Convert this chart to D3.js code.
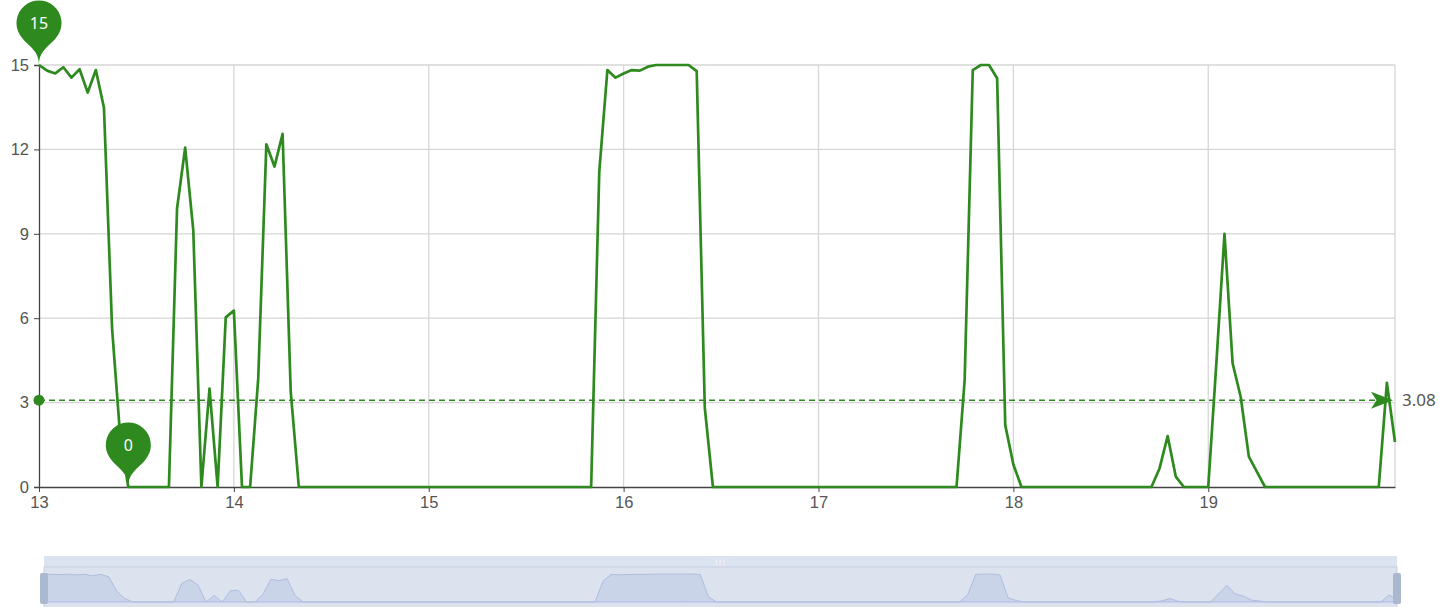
<!DOCTYPE html>
<html>
<head>
<meta charset="utf-8">
<script src="https://cdn.jsdelivr.net/npm/d3@7"></script>
<style>
  html, body { margin: 0; padding: 0; background: #fff; }
  svg { display: block; font-family: "Noto Sans", "Open Sans", sans-serif; }
</style>
</head>
<body>
<div id="chart"></div>
<script>
// day labels on the x axis, one label every 24 hourly samples
var days = ["13", "14", "15", "16", "17", "18", "19"];
var stepsPerDay = 24;
var yTicks = [0, 3, 6, 9, 12, 15];

// hourly values (168 samples)
var values = [
  15, 14.8, 14.7, 14.92, 14.55, 14.85, 14.02, 14.82, 13.48, 5.64, 1.8, 0,
  0, 0, 0, 0, 0,
  9.9, 12.06, 9.13, 0, 3.5, 0, 6.03, 6.27, 0, 0, 3.86, 12.18, 11.39, 12.55, 3.4,
  0, 0, 0, 0, 0, 0, 0, 0, 0, 0, 0, 0, 0, 0, 0, 0, 0, 0, 0, 0,
  0, 0, 0, 0, 0, 0, 0, 0, 0, 0, 0, 0, 0, 0, 0, 0, 0,
  11.2, 14.82, 14.55, 14.7, 14.82, 14.8, 14.94, 15, 15, 15, 15, 15, 14.78, 2.8,
  0, 0, 0, 0, 0, 0, 0, 0, 0, 0, 0, 0, 0, 0, 0, 0,
  0, 0, 0, 0, 0, 0, 0, 0, 0, 0, 0, 0, 0, 0, 0,
  3.8, 14.82, 15, 15, 14.53, 2.2, 0.8,
  0, 0, 0, 0, 0, 0, 0, 0, 0, 0, 0, 0, 0, 0, 0, 0, 0,
  0.66, 1.81, 0.37,
  0, 0, 0, 0,
  4.4, 9.0, 4.4, 3.2, 1.08, 0.54,
  0, 0, 0, 0, 0, 0, 0, 0, 0, 0, 0, 0, 0, 0, 0,
  3.7, 1.6
];

var W = 1454, H = 607;
var green = "#2e8a1f";
var labelColor = "#555";

var svg = d3.select("#chart").append("svg")
  .attr("width", W).attr("height", H);

var x = d3.scaleLinear().domain([0, values.length - 1]).range([39, 1395]);
var y = d3.scaleLinear().domain([0, 15]).range([487, 65]);

// Grid: horizontal
svg.append("g").selectAll("line").data(yTicks.slice(1)).join("line")
  .attr("x1", x(0)).attr("x2", x(values.length - 1))
  .attr("y1", function (d) { return y(d); }).attr("y2", function (d) { return y(d); })
  .attr("stroke", "#d6d6d6").attr("stroke-width", 1.3);

// Grid: vertical at each day
var dayIdx = days.map(function (d, i) { return i * stepsPerDay; });
svg.append("g").selectAll("line").data(dayIdx.slice(1)).join("line")
  .attr("x1", function (d) { return x(d); }).attr("x2", function (d) { return x(d); })
  .attr("y1", y(15)).attr("y2", y(0))
  .attr("stroke", "#d6d6d6").attr("stroke-width", 1.3);
// right edge line
svg.append("line")
  .attr("x1", x(values.length - 1)).attr("x2", x(values.length - 1))
  .attr("y1", y(15)).attr("y2", y(0))
  .attr("stroke", "#d6d6d6").attr("stroke-width", 1.3);

// Axes
var yAxis = d3.axisLeft(y).tickValues(yTicks).tickSize(5).tickPadding(5);
var gy = svg.append("g").attr("transform", "translate(" + x(0) + ",0)").call(yAxis);
gy.select(".domain").attr("stroke", "#444").attr("stroke-width", 1.3);
gy.selectAll(".tick line").attr("stroke", "#444");
gy.selectAll("text").attr("fill", labelColor).attr("font-size", 16.5).attr("font-family", null);

var xAxis = d3.axisBottom(x).tickValues(dayIdx)
  .tickFormat(function (d) { return days[d / stepsPerDay]; })
  .tickSize(5).tickPadding(4).tickSizeOuter(0);
var gx = svg.append("g").attr("transform", "translate(0," + y(0) + ")").call(xAxis);
gx.select(".domain").attr("stroke", "#444").attr("stroke-width", 1.3);
gx.selectAll(".tick line").attr("stroke", "#444");
gx.selectAll("text").attr("fill", labelColor).attr("font-size", 16.5).attr("font-family", null);

// Average mark line
var avg = d3.mean(values);
var avgY = y(avg);
svg.append("line")
  .attr("x1", x(0)).attr("x2", x(values.length - 1) - 6)
  .attr("y1", avgY).attr("y2", avgY)
  .attr("stroke", green).attr("stroke-width", 1.4)
  .attr("stroke-dasharray", "6,4");
svg.append("circle").attr("cx", x(0)).attr("cy", avgY).attr("r", 5.5).attr("fill", green);
var ax = x(values.length - 1) - 2;
svg.append("path")
  .attr("d", "M" + ax + "," + avgY +
    "L" + (ax - 22) + "," + (avgY - 8.5) +
    "L" + (ax - 16.5) + "," + avgY +
    "L" + (ax - 22) + "," + (avgY + 8.5) + "Z")
  .attr("fill", green);
svg.append("text")
  .attr("x", x(values.length - 1) + 7).attr("y", avgY)
  .attr("dy", "0.35em")
  .attr("fill", labelColor).attr("font-size", 17)
  .text(avg.toFixed(2));

// Series line
var line = d3.line()
  .x(function (d, i) { return x(i); })
  .y(function (d) { return y(d); });
svg.append("path").datum(values)
  .attr("d", line)
  .attr("fill", "none")
  .attr("stroke", green)
  .attr("stroke-width", 2.7)
  .attr("stroke-linejoin", "round");

// Mark points (pins) for max and min, echarts-like pin shape
function pin(idx) {
  var px = x(idx), py = y(values[idx]);
  var r = 22.5, cy = py - 42;
  var h = (py - cy) + r;
  var dy = r * r / (h - r);
  var ang = Math.asin(dy / r);
  var dx = Math.cos(ang) * r;
  var tanX = Math.sin(ang), tanY = Math.cos(ang);
  var cp1 = r * 0.6, cp2 = r * 0.7;
  var p = d3.path();
  p.moveTo(px - dx, cy + dy);
  p.arc(px, cy, r, Math.PI - ang, Math.PI * 2 + ang);
  p.bezierCurveTo(px + dx - tanX * cp1, cy + dy + tanY * cp1, px, py - cp2, px, py);
  p.bezierCurveTo(px, py - cp2, px - dx + tanX * cp1, cy + dy + tanY * cp1, px - dx, cy + dy);
  p.closePath();
  var g = svg.append("g");
  g.append("path").attr("d", p.toString()).attr("fill", green);
  g.append("text")
    .attr("x", px).attr("y", cy).attr("dy", "0.35em")
    .attr("text-anchor", "middle")
    .attr("fill", "#fff").attr("font-size", 16)
    .text(values[idx]);
}
pin(d3.maxIndex(values));
pin(d3.minIndex(values));

// Data zoom slider
var sx = d3.scaleLinear().domain([0, values.length - 1]).range([44, 1397]);
var sy = d3.scaleLinear().domain([0, 15]).range([602, 574]);
var slider = svg.append("g");
slider.append("rect")
  .attr("x", 44).attr("y", 556).attr("width", 1353).attr("height", 11)
  .attr("fill", "#dbe2f0");
slider.append("text")
  .attr("x", 720).attr("y", 562).attr("dy", "0.35em")
  .attr("text-anchor", "middle").attr("fill", "#fff").attr("font-size", 7)
  .text("|||");
slider.append("rect")
  .attr("x", 44).attr("y", 567).attr("width", 1353).attr("height", 50)
  .attr("fill", "#dde3ee").attr("stroke", "#c5cfe2").attr("stroke-width", 1);
var area = d3.area()
  .x(function (d, i) { return sx(i); })
  .y0(sy(0))
  .y1(function (d) { return sy(d); });
slider.append("path").datum(values)
  .attr("d", area)
  .attr("fill", "#cad4e9")
  .attr("stroke", "#aebde0").attr("stroke-width", 1);
[44, 1397].forEach(function (hx) {
  slider.append("rect")
    .attr("x", hx - 4).attr("y", 573).attr("width", 8).attr("height", 31)
    .attr("rx", 2)
    .attr("fill", "#aab8d0");
});
</script>
</body>
</html>
